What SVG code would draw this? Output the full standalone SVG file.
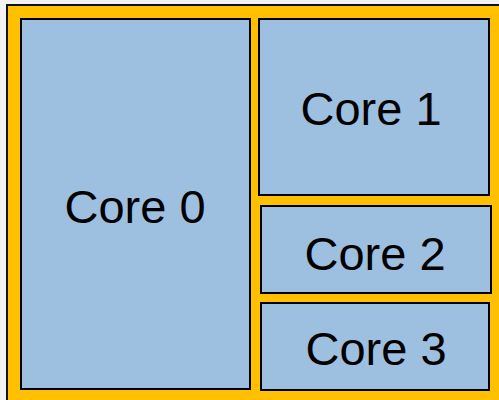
<svg xmlns="http://www.w3.org/2000/svg" width="499" height="400" viewBox="0 0 499 400">
<style>
.core{fill:#9dbfe0;stroke:#000;stroke-width:2}
.lbl{font-family:"Liberation Sans",Arial,sans-serif;font-size:47px;fill:#000;text-anchor:middle}
</style>
<rect x="0" y="0" width="499" height="400" fill="#f2f2f2"/>
<g id="chip">
<rect x="7" y="5" width="500" height="405" fill="#ffc000" stroke="#111" stroke-width="2"/>
</g>
<g id="core0">
<rect class="core" x="21" y="19" width="229" height="370"/>
<text class="lbl" x="135" y="223">Core 0</text>
</g>
<g id="core1">
<rect class="core" x="259" y="19" width="230" height="176"/>
<text class="lbl" x="371" y="125">Core 1</text>
</g>
<g id="core2">
<rect class="core" x="261" y="206" width="230" height="87"/>
<text class="lbl" x="375" y="270">Core 2</text>
</g>
<g id="core3">
<rect class="core" x="261" y="303" width="228" height="87"/>
<text class="lbl" x="376" y="365">Core 3</text>
</g>
<g id="connectors"/>
</svg>
